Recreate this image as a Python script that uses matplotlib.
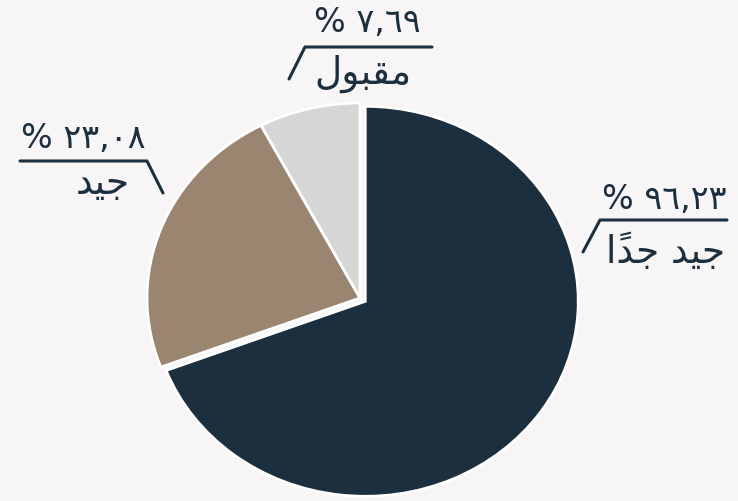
import matplotlib
matplotlib.use("Agg")
import matplotlib.pyplot as plt
from matplotlib.lines import Line2D

# ---- data ----
categories = ["جيد جداً", "جيد", "مقبول"]
values = [69.23, 23.08, 7.69]
value_labels = ["% ٩٦,٢٣", "% ٢٣,٠٨", "% ٧,٦٩"]
colors = ["#1c2f3f", "#9a8670", "#d6d6d6"]

# ---- minimal Arabic shaping (presentation forms, visual order) ----
FORMS = {  # iso, fin, ini, med
    "ج": ("\uFE9D", "\uFE9E", "\uFE9F", "\uFEA0"),
    "ي": ("\uFEF1", "\uFEF2", "\uFEF3", "\uFEF4"),
    "م": ("\uFEE1", "\uFEE2", "\uFEE3", "\uFEE4"),
    "ق": ("\uFED5", "\uFED6", "\uFED7", "\uFED8"),
    "ب": ("\uFE8F", "\uFE90", "\uFE91", "\uFE92"),
    "ل": ("\uFEDD", "\uFEDE", "\uFEDF", "\uFEE0"),
    "د": ("\uFEA9", "\uFEAA", None, None),
    "ا": ("\uFE8D", "\uFE8E", None, None),
    "و": ("\uFEED", "\uFEEE", None, None),
}
MARKS = {"\u064B"}


def shape(text):
    clusters = []
    for ch in text:
        if ch in MARKS and clusters:
            clusters[-1][1] += ch
        else:
            clusters.append([ch, ""])
    out = []
    for i, (ch, mk) in enumerate(clusters):
        if ch not in FORMS:
            out.append(ch + mk)
            continue
        prev = clusters[i - 1][0] if i > 0 else None
        nxt = clusters[i + 1][0] if i + 1 < len(clusters) else None
        jp = prev in FORMS and FORMS[prev][2] is not None
        jn = nxt in FORMS and FORMS[ch][2] is not None
        iso, fin, ini, med = FORMS[ch]
        if jp and jn:
            g = med
        elif jp:
            g = fin
        elif jn:
            g = ini
        else:
            g = iso
        out.append(g + mk)
    return "".join(reversed(out))


BG = "#f7f5f6"
TXT = "#1c2f3f"
W, H = 738, 501
CX, CY, RX, RY = 360, 298, 213, 195

fig = plt.figure(figsize=(W / 100, H / 100), dpi=100, facecolor=BG)
ax = fig.add_axes([0, 0, 1, 1])
ax.set_facecolor(BG)
ax.pie(values, colors=colors, startangle=90, counterclock=False,
       explode=[0.03, 0, 0],
       wedgeprops=dict(edgecolor="white", linewidth=2))
ax.set_aspect("auto")
ax.set_xlim((0 - CX) / RX, (W - CX) / RX)
ax.set_ylim((CY - H) / RY, CY / RY)
ax.axis("off")


def fx(x):
    return x / W


def fy(y):
    return 1 - y / H


def label(num, cat, numxy, catxy, line):
    fig.text(fx(numxy[0]), fy(numxy[1]), num, ha="center", va="center",
             fontsize=24, color=TXT, family="DejaVu Sans")
    fig.text(fx(catxy[0]), fy(catxy[1]), shape(cat), ha="center", va="center",
             fontsize=27, color=TXT, family="DejaVu Sans")
    xs = [fx(p[0]) for p in line]
    ys = [fy(p[1]) for p in line]
    fig.add_artist(Line2D(xs, ys, color=TXT, lw=2.2, transform=fig.transFigure,
                          solid_capstyle="round"))


label(value_labels[0], categories[0], (664, 199), (665, 252),
      [(583, 252), (600, 220), (727, 220)])
label(value_labels[1], categories[1], (83, 139), (103, 184),
      [(20, 161), (147, 161), (163, 193)])
label(value_labels[2], categories[2], (367, 23), (363, 74),
      [(289, 79), (305, 47), (432, 47)])

fig.savefig("out.png", dpi=100, facecolor=BG)
